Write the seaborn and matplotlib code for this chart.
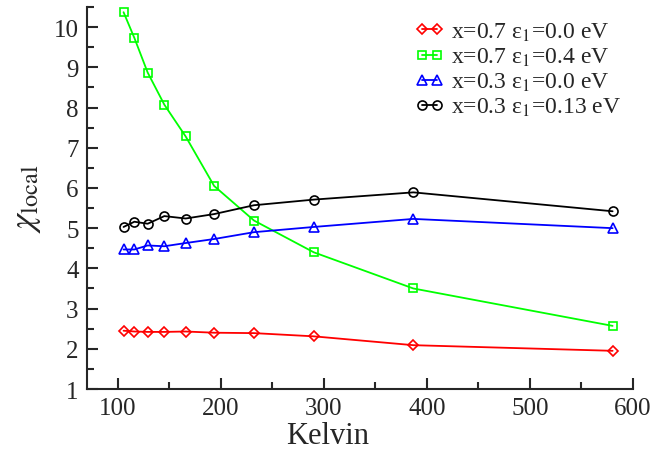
import matplotlib
matplotlib.use("Agg")
import matplotlib.pyplot as plt
from matplotlib.ticker import MultipleLocator
import seaborn as sns

# temperatures (K) and local susceptibility for each curve
kelvin = [105.5, 116.0, 128.9, 145.1, 165.8, 193.4, 232.1, 290.1, 386.8, 580.2]
chi_x07_e00 = [2.45, 2.43, 2.42, 2.42, 2.43, 2.40, 2.39, 2.31, 2.09, 1.95]
chi_x07_e04 = [10.37, 9.73, 8.87, 8.07, 7.28, 6.05, 5.19, 4.40, 3.50, 2.57]
chi_x03_e00 = [4.47, 4.47, 4.57, 4.55, 4.63, 4.73, 4.90, 5.03, 5.23, 5.00]
chi_x03_e013 = [5.03, 5.16, 5.11, 5.30, 5.24, 5.35, 5.57, 5.71, 5.89, 5.42]

labels = [r"x=0.7 ε$_1$=0.0 eV", r"x=0.7 ε$_1$=0.4 eV",
          r"x=0.3 ε$_1$=0.0 eV", r"x=0.3 ε$_1$=0.13 eV"]

sns.set_style("ticks")
plt.rcParams['font.family'] = ['Liberation Serif', 'DejaVu Serif']
plt.rcParams['mathtext.fontset'] = 'stix'

fig = plt.figure(figsize=(6.58, 4.56), dpi=100)
ax = fig.add_axes([0.1322, 0.1447, 0.8298, 0.8378])

series = [
    (chi_x07_e00, '#ff0000', 'D', 5.0),
    (chi_x07_e04, '#00ff00', 's', 6.0),
    (chi_x03_e00, '#0000ff', '^', 6.5),
    (chi_x03_e013, '#000000', 'o', 6.5),
]
for (vals, col, mk, ms), lab in zip(series, labels):
    sns.lineplot(x=kelvin, y=vals, ax=ax, color=col, lw=1.3, label=lab,
                 marker=mk, markersize=ms, markerfacecolor='none',
                 markeredgecolor=col, markeredgewidth=1.2)

ax.set_xlim(70, 600)
ax.set_ylim(1, 10.5)
ax.xaxis.set_major_locator(MultipleLocator(100))
ax.xaxis.set_minor_locator(MultipleLocator(50))
ax.yaxis.set_major_locator(MultipleLocator(1))
ax.yaxis.set_minor_locator(MultipleLocator(0.5))
ax.tick_params(which='both', direction='in', width=1.5, labelsize=18, pad=6)
ax.tick_params(which='major', length=8)
ax.tick_params(which='minor', length=5)

for s in ['top', 'right']:
    ax.spines[s].set_visible(False)
for s in ['left', 'bottom']:
    ax.spines[s].set_linewidth(1.5)

ax.set_xlabel("Kelvin", fontsize=22)
ax.xaxis.set_label_coords(0.44, -0.085)
ax.set_ylabel(r"$\chi_{\rm local}$", fontsize=25, labelpad=8)

ax.legend(loc='upper right', frameon=False, fontsize=17, numpoints=2,
          handlelength=1.25, handletextpad=0.3, labelspacing=0.12,
          borderaxespad=0.1, bbox_to_anchor=(1.0, 0.995))

fig.savefig("out.png", dpi=100)
